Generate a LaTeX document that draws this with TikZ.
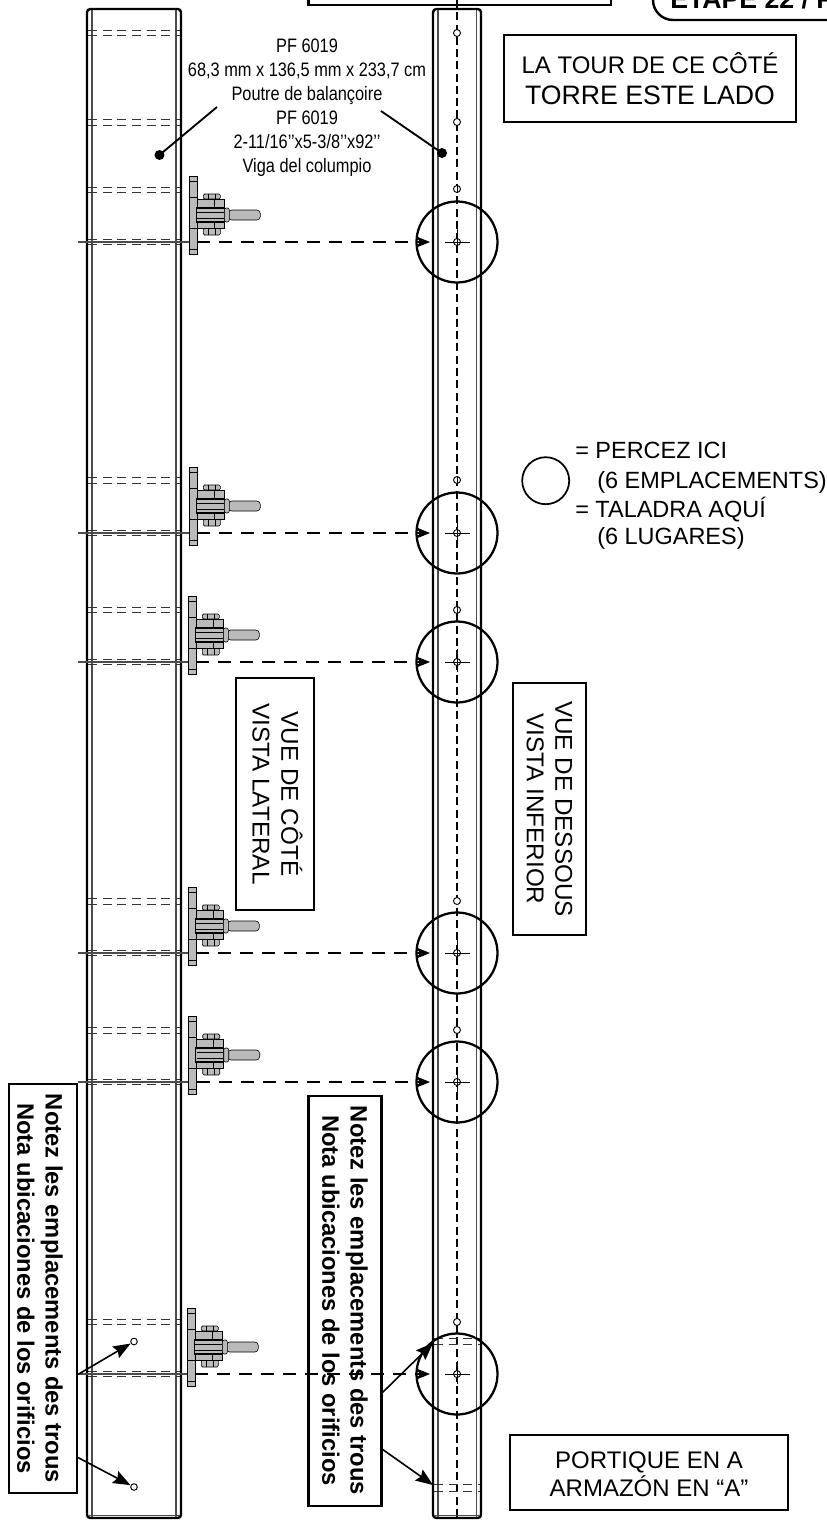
\documentclass[tikz,border=0pt]{standalone}
\usepackage{fontspec}
\setmainfont{Liberation Sans}
\newfontfamily\narrowfont[FakeStretch=0.84]{Liberation Sans}
\usetikzlibrary{arrows.meta}
\tikzset{
	beamline/.style={line width=1.8pt},
	beamthin/.style={line width=0.8pt, color=black!70},
	slotdash/.style={line width=0.75pt, color=black!80, dash pattern=on 6.8pt off 4.2pt},
	centerdash/.style={line width=1.3pt, dash pattern=on 6pt off 3.2pt},
	sightdash/.style={line width=0.85pt, dash pattern=on 9.8pt off 6.7pt, -{Stealth[length=10.5pt,width=8.5pt,inset=3pt]}},
	sightline/.style={line width=0.8pt, color=black!70},
	partedge/.style={line width=0.45pt, fill=black!27},
	drillring/.style={line width=1.7pt},
	tagbox/.style={draw, line width=1.8pt, inner sep=0pt, align=center},
	notetext/.style={font=\fontsize{17.8}{21.2}\selectfont\bfseries, align=center, inner sep=0pt},
	leader/.style={line width=1.4pt},
	pointer/.style={line width=1.2pt, -{Stealth[length=13pt,width=10pt,inset=2pt]}},
}
% pair of hidden slot lines: x from, x to, y
\def\slotpair(#1,#2,#3,#4){
	\draw[slotdash] (#1, #3) -- (#2, #3);
	\draw[slotdash] (#1, #4) -- (#2, #4);
}
% hinge drawn from the flange edge: x, y of the sight line
\def\hinge(#1,#2){
	\begin{scope}[shift={(#1, #2)}]
		\draw[partedge] (0, -66) rectangle (8, 12);
		\draw[line width=0.45pt] (0, -61) -- (8, -61) (0, 7) -- (8, 7);
		\draw[line width=0.45pt] (0, -45) -- (8, -45) (0, -14) -- (8, -14);
		\draw[partedge, rounded corners=1pt] (14, -48) rectangle (31, -43);
		\draw[partedge, rounded corners=1pt] (14, -14) rectangle (31, -7);
		\draw[line width=0.45pt] (19, -48) -- (19, -43) (26, -48) -- (26, -43) (19, -14) -- (19, -7) (26, -14) -- (26, -7);
		\draw[partedge] (8, -43) rectangle (35, -14);
		\draw[line width=0.45pt] (25, -43) -- (25, -14);
		\draw[partedge, line width=0.9pt] (7, -34) rectangle (35, -20);
		\draw[line width=0.45pt] (8, -30) -- (35, -30) (8, -24) -- (35, -24);
		\draw[partedge, rounded corners=2.6pt] (39, -32) -- (71, -32) -- (71, -22) -- (39, -22) -- cycle;
		\draw[partedge, rounded corners=1.5pt] (35, -34) rectangle (40, -20);
	\end{scope}
}
\begin{document}
\begin{tikzpicture}[x=0.75pt, y=-0.75pt]
	%%%%% START %%%%%
	\clip (0, 0) rectangle (827, 1520);
	
	% side view beam
	\draw[beamline, rounded corners=2.5pt] (87, 9) rectangle (181, 1518);
	\draw[beamthin] (92, 10) -- (92, 1517);
	\draw[beamthin] (176, 10) -- (176, 1517);
	\draw[line width=1.0pt] (181, 12) -- (181, 1515);
	\draw[beamthin] (88, 1515.5) -- (180, 1515.5);
	
	% under view beam
	\draw[centerdash] (457, 0) -- (457, 1520);
	\draw[beamline, rounded corners=2.5pt] (433, 9) rectangle (481, 1518);
	\draw[beamthin] (438, 10) -- (438, 1517);
	\draw[beamthin] (476.5, 10) -- (476.5, 1517);
	\draw[line width=1.0pt] (481, 12) -- (481, 1515);
	\draw[beamthin] (434, 1515.5) -- (480, 1515.5);
	
	\slotpair(88, 180, 31, 36);
	\slotpair(88, 180, 119.5, 125.5);
	\foreach \ypos/\ya/\yb in {242/187/192.5, 533/477.5/483.5, 662/607/612.5, 953/898.5/904.5, 1082/1027.5/1033, 1374/1319.5/1324.5}{
		\slotpair(88, 180, \ya, \yb);
		\slotpair(88, 180, \ypos-3, \ypos+2.5);
	}
	\slotpair(434, 480, 1338, 1344);
	\slotpair(434, 480, 1484, 1491);
	
	% small holes of the under view
	\foreach \ypos in {33, 122, 189, 480, 610, 901, 1030, 1322}{
		\draw[line width=0.7pt, fill=white] (457, \ypos) circle (3.5);
	}
	\foreach \ypos in {189, 480, 610}{
		\draw[line width=0.7pt] (457, \ypos-3.5) -- (457, \ypos+3.5);
	}
	
	% hinges, sight lines and drill rings
	\foreach \num/\xpos/\ypos in {1/189.3/242, 2/189.3/533, 3/188.3/662, 4/188.3/953, 5/188.7/1082, 6/187.3/1374}{
		\coordinate (sightback\num) at (78, \ypos);
		\coordinate (flange\num) at (\xpos, \ypos);
		\coordinate (sightfree\num) at (\xpos+8, \ypos);
		\coordinate (ring\num) at (457, \ypos);
		\coordinate (sighttip\num) at (430, \ypos);
		\draw[sightline] (sightback\num) -- (flange\num);
		\draw[sightdash] (sightfree\num) -- (sighttip\num);
		\hinge(\xpos, \ypos);
		\draw[drillring] (ring\num) circle (40.5);
		\draw[line width=0.7pt, fill=white] (ring\num) circle (3.5);
		\draw[line width=0.7pt] (445, \ypos) -- (469.5, \ypos);
		\draw[line width=0.7pt] (457, \ypos-13) -- (457, \ypos+10);
	}
	
	% part label
	\node[font=\narrowfont\fontsize{14.6}{18}\selectfont, align=center] (partlabel) at (307, 108) {PF 6019\\68,3 mm x 136,5 mm x 233,7 cm\\Poutre de balançoire\\PF 6019\\2-11/16’’x5-3/8’’x92’’\\Viga del columpio};
	\coordinate (leadleft) at (217, 107);
	\coordinate (leadright) at (381, 111);
	\coordinate (dotleft) at (159.5, 155);
	\coordinate (dotright) at (442, 153);
	\draw[leader] (leadleft) -- (dotleft);
	\draw[leader] (leadright) -- (dotright);
	\fill (dotleft) circle (5);
	\fill (dotright) circle (5);
	
	% header boxes, cut by the page
	\draw[line width=1.8pt] (308.5, -5) rectangle (611, 5);
	\draw[line width=1.8pt, rounded corners=15pt] (653, -25) -- (653, 20) -- (850, 20);
	\node[anchor=base west, font=\fontsize{20}{24}\selectfont\bfseries, inner sep=0pt] (steplabel) at (670, 9) {ÉTAPE 22 / P};
	
	\node[tagbox, minimum width=219pt, minimum height=65.25pt, font=\fontsize{18}{23.6}\selectfont] (towertag) at (650, 78.5) {LA TOUR DE CE CÔTÉ\\{\fontsize{20}{23.6}\selectfont TORRE ESTE LADO}};
	
	% legend
	\coordinate (legendring) at (545.7, 480.7);
	\draw[line width=1.3pt] (legendring) circle (23.5);
	\node[anchor=base west, inner sep=0pt, font=\fontsize{17.6}{21}\selectfont] (legendfra) at (575, 458) {= PERCEZ ICI};
	\node[anchor=base west, inner sep=0pt, font=\fontsize{17.6}{21}\selectfont] (legendfrb) at (597, 488) {(6 EMPLACEMENTS)};
	\node[anchor=base west, inner sep=0pt, font=\fontsize{17.6}{21}\selectfont] (legendesa) at (575, 517) {= TALADRA AQUÍ};
	\node[anchor=base west, inner sep=0pt, font=\fontsize{17.6}{21}\selectfont] (legendesb) at (597, 544) {(6 LUGARES)};
	
	% view tags
	\node[tagbox, rotate=-90, minimum width=174pt, minimum height=58.5pt] (sidetag) at (275, 794) {};
	\node[rotate=-90, inner sep=0pt, align=center, font=\fontsize{18.2}{21.7}\selectfont] (sidetext) at (277.5, 794) {VUE DE CÔTÉ\\VISTA LATERAL};
	\node[tagbox, rotate=-90, minimum width=189pt, minimum height=55pt, font=\fontsize{18.2}{21.5}\selectfont] (undertag) at (549.5, 809) {VUE DE DESSOUS\\VISTA INFERIOR};
	\node[tagbox, minimum width=208.5pt, minimum height=56.25pt] (frametag) at (649, 1472.5) {};
	\node[inner sep=0pt, align=center, font=\fontsize{18}{21.3}\selectfont] (frametext) at (649, 1474) {PORTIQUE EN A\\ARMAZÓN EN “A”};
	
	% note boxes and their pointers
	\node[tagbox, rotate=-90, minimum width=306.75pt, minimum height=51pt] (noteleft) at (43, 1288.5) {};
	\node[notetext, rotate=-90] (notelefttext) at (40, 1288.5) {Notez les emplacements des trous\\Nota ubicaciones de los orificios};
	\node[tagbox, rotate=-90, minimum width=307.5pt, minimum height=55pt] (noteright) at (345, 1301) {};
	\node[notetext, rotate=-90] (noterighttext) at (345, 1300.5) {Notez les emplacements des trous\\Nota ubicaciones de los orificios};
	
	\coordinate (markup) at (134, 1341.5);
	\coordinate (markdown) at (134, 1487);
	\coordinate (pointa) at (77, 1375);
	\coordinate (pointb) at (77, 1457);
	\coordinate (pointc) at (382, 1393);
	\coordinate (pointd) at (382, 1449);
	\coordinate (slotup) at (433, 1343);
	\coordinate (slotdown) at (433, 1485);
	\draw[line width=0.7pt, fill=white] (markup) circle (3.3);
	\draw[line width=0.7pt, fill=white] (markdown) circle (3.3);
	\draw[pointer, shorten >=3pt] (pointa) -- (markup);
	\draw[pointer, shorten >=3pt] (pointb) -- (markdown);
	\draw[pointer] (pointc) -- (slotup);
	\draw[pointer] (pointd) -- (slotdown);
	
	%%%%% END %%%%%
\end{tikzpicture}
\end{document}
